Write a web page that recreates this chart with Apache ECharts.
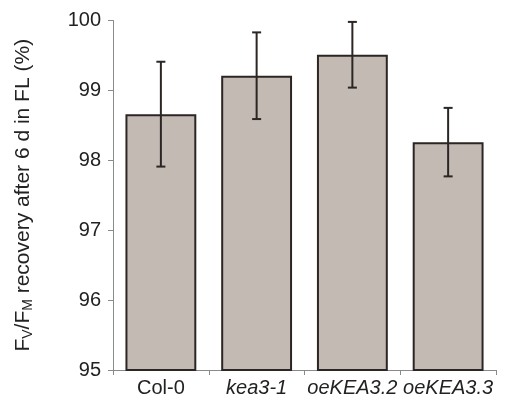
<!DOCTYPE html>
<html><head><meta charset="utf-8">
<script src="https://cdn.jsdelivr.net/npm/echarts@6/dist/echarts.min.js"></script>
<style>html,body{margin:0;padding:0;background:#fff}#c{width:514px;height:408px}</style>
</head><body><div id="c"></div>
<script>
var categories = ['Col-0', 'kea3-1', 'oeKEA3.2', 'oeKEA3.3'];
var italicCats = [false, true, true, true];
var values = [98.66, 99.21, 99.51, 98.26];
var errors = [0.75, 0.62, 0.47, 0.49];
var yTicks = [95, 96, 97, 98, 99, 100];

var chart = echarts.init(document.getElementById('c'));
var font = '"Liberation Sans", Arial, sans-serif';
chart.setOption({
  animation: false,
  grid: { left: 113, right: 18, top: 20.5, bottom: 38 },
  xAxis: {
    type: 'category', data: categories,
    axisLine: { lineStyle: { color: '#8a8a8a', width: 1 } },
    axisTick: { show: true, length: 5, lineStyle: { color: '#8a8a8a' } },
    axisLabel: {
      interval: 0, margin: 8, color: '#222', fontSize: 20, fontFamily: font,
      formatter: function (v, i) { return italicCats[i] ? '{i|' + v + '}' : '{n|' + v + '}'; },
      rich: {
        i: { fontStyle: 'italic', fontSize: 20, fontFamily: font, color: '#222' },
        n: { fontSize: 20, fontFamily: font, color: '#222' }
      }
    }
  },
  yAxis: {
    type: 'value', min: yTicks[0], max: yTicks[yTicks.length - 1], interval: 1,
    splitLine: { show: false },
    axisLine: { show: true, lineStyle: { color: '#8a8a8a', width: 1 } },
    axisTick: { show: true, length: 5, lineStyle: { color: '#8a8a8a' } },
    axisLabel: { margin: 12, color: '#222', fontSize: 20, fontFamily: font },
    name: '{t|F}{s|V}{t|/F}{s|M}{t| recovery after 6 d in FL (%)}',
    nameLocation: 'middle', nameRotate: 90, nameGap: 78,
    nameTextStyle: {
      rich: {
        t: { fontSize: 21, fontFamily: font, color: '#222' },
        s: { fontSize: 14, fontFamily: font, color: '#222', verticalAlign: 'bottom', padding: [9, 0, 0, 0] }
      }
    }
  },
  series: [
    {
      type: 'bar', data: values, barWidth: '74%',
      itemStyle: { color: '#c3bab4', borderColor: '#2b2624', borderWidth: 2 }
    },
    {
      type: 'custom',
      data: values.map(function (v, i) { return [i, v - errors[i], v + errors[i]]; }),
      renderItem: function (params, api) {
        var x = api.value(0);
        var lo = api.coord([x, api.value(1)]);
        var hi = api.coord([x, api.value(2)]);
        var hw = 4.5;
        var st = { stroke: '#2b2624', lineWidth: 2 };
        return { type: 'group', children: [
          { type: 'line', shape: { x1: hi[0], y1: hi[1], x2: lo[0], y2: lo[1] }, style: st },
          { type: 'line', shape: { x1: hi[0] - hw, y1: hi[1], x2: hi[0] + hw, y2: hi[1] }, style: st },
          { type: 'line', shape: { x1: lo[0] - hw, y1: lo[1], x2: lo[0] + hw, y2: lo[1] }, style: st }
        ]};
      },
      z: 10
    }
  ]
});
</script></body></html>
